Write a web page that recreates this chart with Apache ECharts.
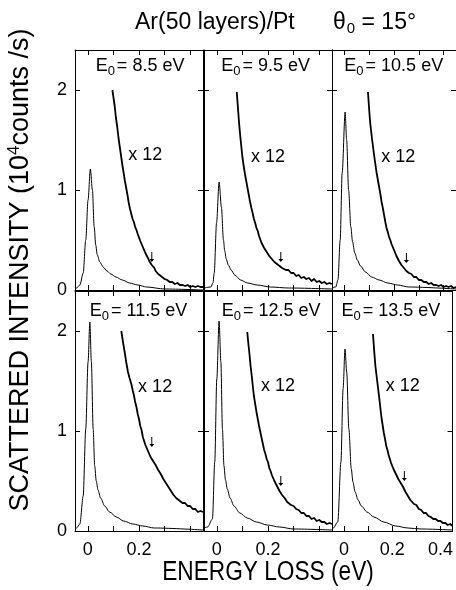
<!DOCTYPE html>
<html>
<head>
<meta charset="utf-8">
<script src="https://cdn.jsdelivr.net/npm/echarts@6/dist/echarts.min.js"></script>
<style>
  html, body { margin: 0; padding: 0; background: #fff; }
  #chart { width: 456px; height: 590px; }
</style>
</head>
<body>
<div id="chart"></div>
<script>
// Beam energies of the six panels (eV)
const beamEnergies = ['8.5', '9.5', '10.5', '11.5', '12.5', '13.5'];
const multiplierText = 'x 12';

// Axis ticks and labels (energy loss in eV, intensity in 10^4 counts/s)
const xTicks = [0, 0.1, 0.2, 0.3, 0.4];
const xLabelsInner = [0, 0.2];
const xLabelsLast = [0, 0.2, 0.4];
const yTicks = [0, 1, 2];

// Elastic peaks [energy loss, intensity]
const elastic_8_5 = [[-0.05,0.01],[-0.044,0.02],[-0.031,0.05],[-0.018,0.17],[-0.008,0.5],[0.001,0.9],[0.01,1.21],[0.018,1.0],[0.025,0.63],[0.031,0.45],[0.037,0.35],[0.047,0.28],[0.06,0.23],[0.075,0.19],[0.09,0.16],[0.11,0.13],[0.135,0.1],[0.163,0.07],[0.195,0.05],[0.23,0.03],[0.3,0.01],[0.45,0.0]];
const elastic_9_5 = [[-0.05,0.02],[-0.023,0.03],[-0.015,0.07],[-0.01,0.17],[-0.001,0.67],[0.009,1.08],[0.018,0.83],[0.026,0.5],[0.031,0.39],[0.037,0.31],[0.045,0.25],[0.056,0.2],[0.07,0.15],[0.093,0.1],[0.12,0.07],[0.158,0.05],[0.21,0.03],[0.28,0.02],[0.45,0.01]];
const elastic_10_5 = [[-0.05,0.02],[-0.035,0.03],[-0.026,0.1],[-0.017,0.5],[-0.009,1.17],[0.003,1.78],[0.009,1.5],[0.017,1.0],[0.026,0.63],[0.033,0.48],[0.042,0.37],[0.052,0.3],[0.065,0.24],[0.085,0.18],[0.11,0.13],[0.14,0.1],[0.175,0.07],[0.215,0.05],[0.26,0.03],[0.45,0.01]];
const elastic_11_5 = [[-0.05,0.02],[-0.044,0.03],[-0.031,0.07],[-0.018,0.35],[-0.008,1.02],[0.001,1.69],[0.008,2.09],[0.014,1.69],[0.021,1.02],[0.027,0.65],[0.033,0.5],[0.04,0.41],[0.05,0.33],[0.066,0.25],[0.085,0.19],[0.112,0.14],[0.14,0.1],[0.176,0.07],[0.215,0.05],[0.26,0.03],[0.45,0.01]];
const elastic_12_5 = [[-0.05,0.03],[-0.036,0.04],[-0.017,0.12],[-0.008,0.69],[0.0,1.52],[0.009,2.1],[0.016,1.69],[0.022,1.02],[0.028,0.65],[0.034,0.51],[0.041,0.42],[0.052,0.33],[0.067,0.25],[0.09,0.18],[0.119,0.13],[0.155,0.09],[0.197,0.06],[0.245,0.04],[0.3,0.02],[0.45,0.01]];
const elastic_13_5 = [[-0.05,0.02],[-0.045,0.03],[-0.026,0.09],[-0.013,0.69],[-0.004,1.42],[0.004,1.82],[0.011,1.59],[0.02,1.02],[0.03,0.62],[0.037,0.49],[0.046,0.39],[0.058,0.31],[0.072,0.25],[0.095,0.19],[0.124,0.14],[0.165,0.09],[0.214,0.05],[0.265,0.03],[0.32,0.02],[0.45,0.01]];

// Loss spectra magnified x12 [energy loss, intensity]
const loss_8_5 = [[0.096,2.00],[0.100,1.93],[0.105,1.84],[0.110,1.72],[0.115,1.63],[0.120,1.52],[0.125,1.43],[0.130,1.34],[0.135,1.25],[0.140,1.17],[0.145,1.09],[0.150,1.02],[0.155,0.95],[0.160,0.87],[0.165,0.81],[0.170,0.76],[0.175,0.71],[0.180,0.68],[0.185,0.63],[0.190,0.60],[0.195,0.56],[0.200,0.54],[0.205,0.49],[0.210,0.47],[0.215,0.43],[0.220,0.41],[0.225,0.37],[0.230,0.35],[0.235,0.32],[0.240,0.29],[0.245,0.28],[0.250,0.25],[0.255,0.23],[0.260,0.22],[0.265,0.19],[0.270,0.18],[0.275,0.16],[0.280,0.15],[0.290,0.13],[0.300,0.11],[0.310,0.10],[0.320,0.08],[0.330,0.08],[0.340,0.06],[0.350,0.07],[0.360,0.05],[0.370,0.05],[0.380,0.04],[0.390,0.05],[0.400,0.03],[0.410,0.04],[0.420,0.03],[0.430,0.04],[0.440,0.03],[0.450,0.03]];
const loss_9_5 = [[0.078,1.98],[0.082,1.84],[0.087,1.67],[0.092,1.53],[0.096,1.43],[0.100,1.33],[0.105,1.24],[0.110,1.16],[0.115,1.09],[0.120,1.02],[0.125,0.95],[0.130,0.88],[0.135,0.82],[0.140,0.77],[0.145,0.71],[0.150,0.67],[0.155,0.62],[0.160,0.59],[0.165,0.54],[0.170,0.52],[0.175,0.47],[0.180,0.46],[0.185,0.42],[0.190,0.41],[0.195,0.38],[0.200,0.37],[0.205,0.34],[0.210,0.34],[0.215,0.31],[0.220,0.31],[0.225,0.28],[0.230,0.29],[0.235,0.26],[0.240,0.27],[0.245,0.24],[0.250,0.25],[0.255,0.22],[0.260,0.23],[0.270,0.20],[0.280,0.20],[0.290,0.17],[0.300,0.17],[0.310,0.14],[0.320,0.15],[0.330,0.12],[0.340,0.13],[0.350,0.11],[0.360,0.12],[0.370,0.09],[0.380,0.11],[0.390,0.08],[0.400,0.09],[0.410,0.07],[0.420,0.08],[0.430,0.06],[0.440,0.07],[0.450,0.06]];
const loss_10_5 = [[0.095,1.98],[0.100,1.80],[0.104,1.67],[0.110,1.54],[0.117,1.40],[0.123,1.29],[0.130,1.17],[0.135,1.10],[0.140,1.03],[0.145,0.96],[0.150,0.88],[0.155,0.82],[0.160,0.75],[0.165,0.68],[0.170,0.62],[0.175,0.58],[0.180,0.53],[0.185,0.50],[0.190,0.46],[0.195,0.43],[0.200,0.40],[0.205,0.37],[0.210,0.34],[0.215,0.32],[0.220,0.29],[0.225,0.28],[0.230,0.25],[0.235,0.24],[0.240,0.22],[0.245,0.21],[0.250,0.19],[0.255,0.19],[0.260,0.17],[0.270,0.16],[0.280,0.13],[0.290,0.13],[0.300,0.10],[0.310,0.10],[0.320,0.08],[0.330,0.08],[0.340,0.06],[0.350,0.07],[0.360,0.05],[0.370,0.05],[0.380,0.04],[0.390,0.05],[0.400,0.03],[0.410,0.04],[0.420,0.03],[0.430,0.04],[0.440,0.02],[0.450,0.03]];
const loss_11_5 = [[0.131,2.00],[0.135,1.93],[0.140,1.85],[0.144,1.79],[0.150,1.69],[0.157,1.59],[0.163,1.53],[0.170,1.47],[0.176,1.40],[0.180,1.36],[0.185,1.29],[0.190,1.24],[0.195,1.17],[0.200,1.12],[0.205,1.05],[0.210,1.01],[0.215,0.94],[0.220,0.92],[0.225,0.86],[0.230,0.84],[0.235,0.80],[0.240,0.79],[0.245,0.74],[0.250,0.75],[0.255,0.70],[0.260,0.71],[0.265,0.66],[0.270,0.65],[0.275,0.61],[0.280,0.60],[0.285,0.57],[0.290,0.56],[0.295,0.52],[0.300,0.52],[0.305,0.48],[0.310,0.48],[0.315,0.44],[0.320,0.44],[0.325,0.40],[0.330,0.40],[0.335,0.36],[0.340,0.37],[0.345,0.33],[0.350,0.34],[0.355,0.31],[0.360,0.32],[0.370,0.28],[0.380,0.28],[0.390,0.25],[0.400,0.25],[0.410,0.22],[0.420,0.22],[0.430,0.19],[0.440,0.20],[0.450,0.19]];
const loss_12_5 = [[0.119,1.99],[0.123,1.88],[0.128,1.76],[0.132,1.65],[0.137,1.54],[0.141,1.44],[0.145,1.35],[0.150,1.27],[0.155,1.19],[0.160,1.12],[0.165,1.05],[0.170,0.99],[0.175,0.93],[0.180,0.87],[0.185,0.81],[0.190,0.77],[0.195,0.72],[0.200,0.69],[0.205,0.63],[0.210,0.60],[0.215,0.56],[0.220,0.54],[0.225,0.50],[0.230,0.49],[0.235,0.45],[0.240,0.44],[0.245,0.40],[0.250,0.40],[0.255,0.36],[0.260,0.36],[0.265,0.33],[0.270,0.33],[0.275,0.29],[0.280,0.30],[0.290,0.26],[0.300,0.25],[0.310,0.22],[0.320,0.21],[0.330,0.18],[0.340,0.18],[0.350,0.15],[0.360,0.15],[0.370,0.12],[0.380,0.13],[0.390,0.10],[0.400,0.11],[0.410,0.09],[0.420,0.09],[0.430,0.07],[0.440,0.08],[0.450,0.07]];
const loss_13_5 = [[0.120,1.97],[0.125,1.80],[0.130,1.65],[0.135,1.55],[0.140,1.45],[0.143,1.39],[0.148,1.29],[0.152,1.20],[0.156,1.12],[0.160,1.06],[0.165,0.98],[0.170,0.92],[0.175,0.85],[0.180,0.81],[0.185,0.76],[0.190,0.74],[0.195,0.68],[0.200,0.66],[0.205,0.62],[0.210,0.61],[0.215,0.57],[0.220,0.56],[0.225,0.52],[0.230,0.51],[0.235,0.48],[0.240,0.46],[0.245,0.44],[0.250,0.42],[0.255,0.39],[0.260,0.38],[0.265,0.35],[0.270,0.35],[0.275,0.31],[0.280,0.31],[0.290,0.27],[0.300,0.26],[0.310,0.22],[0.320,0.21],[0.330,0.18],[0.340,0.18],[0.350,0.15],[0.360,0.14],[0.370,0.12],[0.380,0.12],[0.390,0.10],[0.400,0.10],[0.410,0.08],[0.420,0.08],[0.430,0.06],[0.440,0.07],[0.450,0.05]];

// Position of the small arrow marking each loss feature (tip point)
const arrowEnergy = 0.25;
const arrowLevels = [0.28, 0.28, 0.27, 0.84, 0.45, 0.50];

const elasticSets = [elastic_8_5, elastic_9_5, elastic_10_5, elastic_11_5, elastic_12_5, elastic_13_5];
const lossSets = [loss_8_5, loss_9_5, loss_10_5, loss_11_5, loss_12_5, loss_13_5];

const FONT = '"Liberation Sans", Arial, sans-serif';

const colLeft = [75, 204, 332];
const rowTop = [50, 291];
const panelW = 128, panelH = 240;

// Label anchors inside each panel (data units)
const energyLabelPos = [[0.204, 2.24], [0.191, 2.24], [0.199, 2.24], [0.198, 2.20], [0.212, 2.20], [0.194, 2.20]];
const multLabelPos = [[0.224, 1.345], [0.20, 1.33], [0.217, 1.33], [0.263, 1.435], [0.239, 1.445], [0.243, 1.445]];

const grid = [], xAxis = [], yAxis = [], series = [];
const black = '#000';

for (let i = 0; i < 6; i++) {
  const r = Math.floor(i / 3), c = i % 3;
  grid.push({ left: colLeft[c], top: rowTop[r], width: panelW, height: panelH, containLabel: false });

  const xBase = {
    gridIndex: i, type: 'value', min: -0.05, max: 0.45,
    axisLine: { show: true, onZero: false, lineStyle: { color: black, width: 1 } },
    axisTick: { show: true, inside: true, length: 5, customValues: xTicks, lineStyle: { color: black, width: 1 } },
    splitLine: { show: false }
  };
  xAxis.push(Object.assign({}, xBase, {
    position: 'bottom',
    axisLabel: {
      show: r === 1, customValues: c === 2 ? xLabelsLast : xLabelsInner,
      formatter: v => (v === 0 ? '0' : String(Math.round(v * 10) / 10)),
      color: black, fontSize: 18, fontFamily: FONT, margin: 10
    }
  }));
  xAxis.push(Object.assign({}, xBase, { position: 'top', axisLabel: { show: false } }));

  const yBase = {
    gridIndex: i, type: 'value', min: 0, max: 2.4,
    axisLine: { show: true, onZero: false, lineStyle: { color: black, width: 1 } },
    axisTick: { show: true, inside: true, length: 5, customValues: yTicks, lineStyle: { color: black, width: 1 } },
    splitLine: { show: false }
  };
  yAxis.push(Object.assign({}, yBase, {
    position: 'left',
    axisLabel: { show: c === 0, customValues: yTicks, color: black, fontSize: 18, fontFamily: FONT, margin: 8 }
  }));
  yAxis.push(Object.assign({}, yBase, { position: 'right', axisLabel: { show: false } }));

  const ax = { xAxisIndex: 2 * i, yAxisIndex: 2 * i };

  series.push(Object.assign({
    type: 'line', data: elasticSets[i], showSymbol: false, silent: true,
    smooth: 0.3, smoothMonotone: 'x',
    lineStyle: { color: black, width: 1 }, clip: true
  }, ax));
  series.push(Object.assign({
    type: 'line', data: lossSets[i], showSymbol: false, silent: true,
    lineStyle: { color: black, width: 1.8, join: 'round' }, clip: true
  }, ax));
  series.push(Object.assign({
    type: 'scatter', silent: true,
    data: [[arrowEnergy, arrowLevels[i]]],
    symbol: 'path://M2,0 L3,0 L3,7 L5,7 L2.5,10 L0,7 L2,7 Z',
    symbolSize: [5, 10], symbolOffset: [0, -5],
    itemStyle: { color: black, opacity: 1 }
  }, ax));
  series.push(Object.assign({
    type: 'scatter', silent: true, symbolSize: 0,
    itemStyle: { color: black, opacity: 1 },
    data: [energyLabelPos[i]],
    label: {
      show: true, position: 'inside', textBorderWidth: 0, opacity: 1,
      formatter: '{m|E}{s|0}{e|= ' + beamEnergies[i] + ' eV}',
      rich: {
        m: { fontSize: 18, fontFamily: FONT, color: black, textBorderWidth: 0 },
        e: { fontSize: 18, fontFamily: FONT, color: black, textBorderWidth: 0, padding: [0, 0, 0, 2] },
        s: { fontSize: 13, fontFamily: FONT, color: black, textBorderWidth: 0, padding: [11, 0, 0, 0] }
      }
    }
  }, ax));
  series.push(Object.assign({
    type: 'scatter', silent: true, symbolSize: 0,
    itemStyle: { color: black, opacity: 1 },
    data: [multLabelPos[i]],
    label: { show: true, position: 'inside', opacity: 1, formatter: multiplierText, fontSize: 18, fontFamily: FONT, color: black, textBorderWidth: 0 }
  }, ax));
}

const chart = echarts.init(document.getElementById('chart'), null, { renderer: 'canvas' });
chart.setOption({
  animation: false,
  backgroundColor: '#fff',
  grid, xAxis, yAxis, series,
  graphic: [
    {
      type: 'text', left: 135, top: 11,
      style: { text: 'Ar(50 layers)/Pt', font: '23px ' + FONT, fill: black }
    },
    {
      type: 'text', left: 333, top: 11,
      style: {
        text: '{m|θ}{s|0}{m| = 15°}',
        rich: {
          m: { fontSize: 23, fontFamily: FONT, fill: black },
          s: { fontSize: 15, fontFamily: FONT, fill: black, padding: [13, 0, 0, 1] }
        }
      }
    },
    {
      type: 'text', x: 21, y: 270, rotation: Math.PI / 2,
      style: {
        text: '{m|SCATTERED INTENSITY (10}{p|4}{m|counts /s)}',
        align: 'center', verticalAlign: 'middle',
        rich: {
          m: { fontSize: 27, fontFamily: FONT, fill: black },
          p: { fontSize: 17, fontFamily: FONT, fill: black, padding: [0, 0, 14, 0] }
        }
      }
    },
    {
      type: 'text', x: 268, y: 573, scaleX: 0.84,
      style: { text: 'ENERGY LOSS (eV)', font: '27px ' + FONT, fill: black, align: 'center', verticalAlign: 'middle' }
    }
  ]
});
</script>
</body>
</html>
